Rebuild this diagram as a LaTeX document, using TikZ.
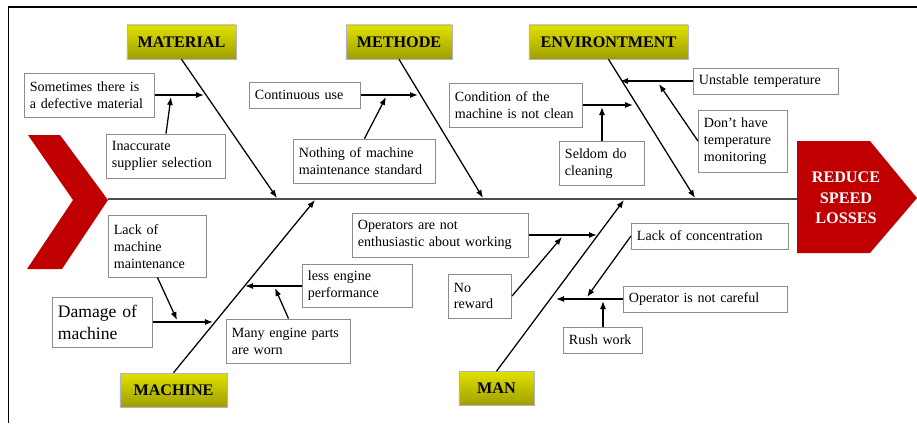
\documentclass[tikz,border=0pt]{standalone}
\usepackage{fontspec}
\setmainfont{Liberation Serif}
\usetikzlibrary{arrows.meta}
\definecolor{fishred}{HTML}{C00000}
\definecolor{boxline}{HTML}{8C8C8C}

\begin{document}
\begin{tikzpicture}[x=0.025cm, y=-0.025cm,
                    cause node/.style={draw=boxline,fill=white,align=left,line width=0.6pt,
                                       inner xsep=4pt,font=\fontsize{10}{12}\selectfont},
                    bone node/.style={draw=blue!20!gray!50,top color=yellow!88!black,middle color=yellow,
                                      bottom color=yellow!62!black,minimum height=0.85cm,
                                      font=\bfseries\fontsize{11.5}{13}\selectfont},
                    link/.style={-{Latex[length=2mm,width=1.5mm]},line width=0.9pt}]

  \useasboundingbox (0,0) rectangle (917,423);
  \draw[line width=1.4pt] (8.5,423) -- (8.5,7) -- (917,7);

  % tail, head and spine
  \fill[fishred] (28,135) -- (60,135) -- (108,200) -- (62,269) -- (27,269) -- (73,200) -- cycle;
  \fill[fishred] (797,141) -- (870,141) -- (917,198) -- (870,253) -- (797,253) -- cycle;
  \node[text=white,align=center,font=\bfseries\fontsize{11.5}{14.5}\selectfont] (0) at (846,198) {REDUCE\\SPEED\\LOSSES};
  \coordinate (tail) at (108,199);
  \coordinate (head) at (797,199);
  \draw[line width=1.3pt,black!70] (tail) -- (head);

  % main bones
  \node[bone node,minimum width=2.73cm] (1) at (181.5,42) {MATERIAL};
  \node[bone node,minimum width=2.65cm] (2) at (399,42) {METHODE};
  \node[bone node,minimum width=3.98cm] (3) at (608.5,42) {ENVIRONTMENT};
  \node[bone node,minimum width=2.68cm] (4) at (173.5,390) {MACHINE};
  \node[bone node,minimum width=1.88cm] (5) at (496.5,388.5) {MAN};
  \coordinate (m1) at (277,198);
  \coordinate (m2) at (483,198);
  \coordinate (m3) at (695,198);
  \coordinate (m4) at (315,200);
  \coordinate (m5) at (624,200);
  \draw[link] (1.south) -- (m1);
  \draw[link] (2.south) -- (m2);
  \draw[link] (3.south) -- (m3);
  \draw[link] (4.north) -- (m4);
  \draw[link] (5.north) -- (m5);

  % causes
  \node[cause node,text width=2.98cm,minimum height=1.1cm] (6) at (89.5,95) {Sometimes there is\\a defective material};
  \node[cause node,text width=2.7cm,minimum height=1.1cm] (7) at (166,156) {Inaccurate\\supplier selection};
  \node[cause node,text width=2.5cm,minimum height=0.65cm] (8) at (305,95) {Continuous use};
  \node[cause node,text width=3.28cm,minimum height=1.1cm] (9) at (364.5,161) {Nothing of machine\\maintenance standard};
  \node[cause node,text width=3.05cm,minimum height=1.1cm] (10) at (516,105) {Condition of the\\machine is not clean};
  \node[cause node,text width=1.85cm,minimum height=1.08cm] (11) at (602,163.5) {Seldom do\\cleaning};
  \node[cause node,text width=3.35cm,minimum height=0.65cm] (12) at (766,81) {Unstable temperature};
  \node[cause node,text width=1.95cm,minimum height=1.55cm] (13) at (743,141) {Don’t have\\temperature\\monitoring};
  \node[cause node,text width=2.18cm,minimum height=1.53cm] (14) at (157.5,246.5) {Lack of\\machine\\maintenance};
  \node[cause node,text width=2.23cm,minimum height=1.25cm,font=\fontsize{12.5}{15.5}\selectfont] (15) at (102.5,322) {Damage of\\machine};
  \node[cause node,text width=2.48cm,minimum height=1.08cm] (16) at (357.5,286) {less engine\\performance};
  \node[cause node,text width=2.83cm,minimum height=1.1cm] (17) at (288.5,341) {Many engine parts\\are worn};
  \node[cause node,text width=4.13cm,minimum height=1.1cm] (18) at (440.5,235) {Operators are not\\enthusiastic about working};
  \node[cause node,text width=1.3cm,minimum height=1.1cm] (19) at (480,296) {No\\reward};
  \node[cause node,text width=3.65cm,minimum height=0.65cm] (20) at (710,236) {Lack of concentration};
  \node[cause node,text width=3.83cm,minimum height=0.65cm] (21) at (705.5,299) {Operator is not careful};
  \node[cause node,text width=1.7cm,minimum height=0.65cm] (22) at (603,340) {Rush work};

  \coordinate (a6) at (204,95);
  \coordinate (a7) at (171,97);
  \coordinate (a8) at (418,95);
  \coordinate (a9) at (386,97);
  \coordinate (a10) at (633,105);
  \coordinate (a11) at (602,107);
  \coordinate (a12) at (620,81);
  \coordinate (a13) at (659,84);
  \coordinate (a14) at (177,320);
  \coordinate (a15) at (213,322);
  \coordinate (a16) at (245,286);
  \coordinate (a17) at (275,288);
  \coordinate (a18) at (597,235);
  \coordinate (a19) at (562,237);
  \coordinate (a20) at (587,297);
  \coordinate (a21) at (556,299);
  \coordinate (a22) at (603,301);
  \draw[link] (6) -- (a6);
  \draw[link] (7.north) -- (a7);
  \draw[link] (8) -- (a8);
  \draw[link] (9.north) -- (a9);
  \draw[link] (10) -- (a10);
  \draw[link] (11) -- (a11);
  \draw[link] (12) -- (a12);
  \draw[link] (13.west) -- (a13);
  \draw[link] (14.south) -- (a14);
  \draw[link] (15) -- (a15);
  \draw[link] (16) -- (a16);
  \draw[link] (17.north) -- (a17);
  \draw[link] (18) -- (a18);
  \draw[link] (19.east) -- (a19);
  \draw[link] (20.west) -- (a20);
  \draw[link] (21) -- (a21);
  \draw[link] (22) -- (a22);

\end{tikzpicture}
\end{document}
